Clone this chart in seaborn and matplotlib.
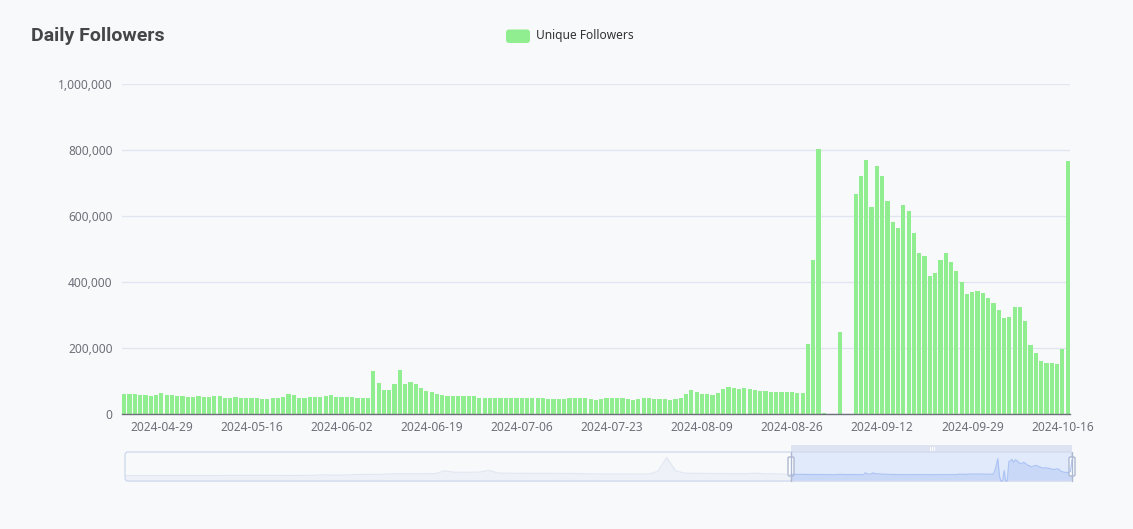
import numpy as np
import pandas as pd
import matplotlib
matplotlib.use("Agg")
import matplotlib.pyplot as plt
from matplotlib.patches import FancyBboxPatch, Rectangle
import seaborn as sns

# ---------------- data ----------------
dates = pd.date_range("2024-04-22", "2024-10-17", freq="D").strftime("%Y-%m-%d").tolist()

followers_k_apr_jun = [60, 61, 60, 58, 59, 56, 57, 64, 58, 58, 55, 54, 52, 52, 55, 52, 52, 54, 54, 49,
                       49, 51, 50, 50, 48, 48, 46, 46, 47, 47, 53, 62, 57, 50, 50, 53, 53, 53, 54, 57,
                       52, 52, 52, 52, 50, 49, 49]
followers_k_jun_jul = [131, 93, 72, 72, 91, 134, 91, 96, 90, 78, 71, 68, 60, 57, 55, 55, 54, 54, 55, 55,
                       50, 49, 50, 50, 50, 49, 47, 47, 49, 49, 50, 50, 50, 46, 46, 45, 46, 48, 48, 48,
                       47, 46, 43, 46, 48, 48, 48, 47, 45, 43]
followers_k_jul_aug = [45, 47, 48, 46, 46, 46, 43, 44, 50, 60, 72, 67, 62, 60, 59, 64, 75, 81, 79, 76,
                       78, 76, 73, 71, 71, 67, 66, 66, 67, 67, 65, 65]
followers_k_aug_oct = [213, 468, 803, 3, np.nan, np.nan, 248, np.nan, np.nan, 668,
                       722, 770, 626, 753, 720, 645, 581, 564, 633, 614,
                       550, 487, 478, 419, 427, 468, 488, 462, 432, 399,
                       364, 370, 374, 366, 352, 337, 315, 291, 294, 324,
                       324, 281, 209, 186, 161, 155, 155, 153, 197, 766]

followers = np.array(followers_k_apr_jun + followers_k_jun_jul + followers_k_jul_aug
                     + followers_k_aug_oct, dtype=float) * 1000

# earlier history, as read from the data-zoom shadow (thousands, coarse samples)
history_k = [3, 3, 3, 3, 3, 3, 3, 4, 4, 4, 4, 4, 5, 5, 5, 5, 6, 6, 6, 8,
             10, 12, 40, 28, 25, 27, 55, 60, 62, 62, 85, 92, 92, 95, 95, 100, 230, 165, 160, 165,
             170, 250, 125, 115, 112, 110, 110, 108, 108, 105, 105, 100, 85, 82, 80, 80, 78, 78, 76, 76,
             200, 866, 230, 125, 110, 105, 100, 100, 98, 98, 95, 120, 90, 85, 70]
history = np.array(history_k, dtype=float) * 1000

tick_labels = ["2024-04-29", "2024-05-16", "2024-06-02", "2024-06-19", "2024-07-06", "2024-07-23",
               "2024-08-09", "2024-08-26", "2024-09-12", "2024-09-29", "2024-10-16"]
y_ticks = [0, 200000, 400000, 600000, 800000, 1000000]

title = "Daily Followers"
series_name = "Unique Followers"

# ---------------- style ----------------
BG = "#f8f9fb"
BAR = "#90ee90"
AXIS = "#6e7079"
GRID = "#e0e6f1"

sns.set_style("white")
plt.rcParams["font.family"] = ["Noto Sans", "DejaVu Sans"]

W, H = 1133, 529
fig = plt.figure(figsize=(W / 100, H / 100), dpi=100, facecolor=BG)

# main plotting area in pixel coords: x 121.6..1070.3, y 84..414
L, R, T, B = 121.6, 1070.3, 84, 414
ax = fig.add_axes([L / W, 1 - B / H, (R - L) / W, (B - T) / H])
ax.set_facecolor(BG)

df = pd.DataFrame({"date": dates, "followers": followers})
sns.barplot(data=df, x="date", y="followers", color=BAR, saturation=1, width=0.8,
            errorbar=None, linewidth=0, edgecolor="none", ax=ax, zorder=3)

n = len(dates)
ax.set_xlim(-0.5, n - 0.5)
ax.set_ylim(0, 1000000)
ax.set_xlabel("")
ax.set_ylabel("")

# y axis
ax.set_yticks(y_ticks)
ax.set_yticklabels([f"{v:,}" for v in y_ticks])
ax.yaxis.grid(True, color=GRID, linewidth=1, zorder=0)
ax.set_axisbelow(True)
ax.tick_params(axis="y", length=0, pad=6.5, labelsize=8.6, labelcolor=AXIS)

# x axis: labels at band centers, tick marks at band boundaries
label_pos = [dates.index(t) for t in tick_labels]
ax.set_xticks(label_pos)
ax.set_xticklabels(tick_labels)
ax.tick_params(axis="x", which="major", length=0, pad=5, labelsize=8.6, labelcolor=AXIS)
ax.set_xticks([p - 0.5 for p in label_pos] + [n - 0.5], minor=True)
ax.tick_params(axis="x", which="minor", length=3.6, width=1, color=AXIS)

for s in ["top", "right", "left"]:
    ax.spines[s].set_visible(False)
ax.spines["bottom"].set_color(AXIS)
ax.spines["bottom"].set_linewidth(1)
ax.spines["bottom"].set_zorder(4)

# ---------------- overlay in pixel coordinates ----------------
ov = fig.add_axes([0, 0, 1, 1], zorder=5)
ov.set_xlim(0, W)
ov.set_ylim(H, 0)
ov.axis("off")
ov.patch.set_visible(False)

ov.text(31, 36, title, fontsize=14, fontweight="bold", color="#464646",
        ha="left", va="center", family=["Roboto", "DejaVu Sans"])

ov.add_patch(FancyBboxPatch((506, 29.5), 24, 13.5, boxstyle="round,pad=0,rounding_size=3",
                            facecolor=BAR, edgecolor="none"))
ov.text(536, 36, series_name, fontsize=8.6, color="#333333", ha="left", va="center")

# ---------------- data-zoom slider ----------------
sx0, sx1, sy0, sy1 = 125, 1072, 452, 481
wx0 = 791  # window start

full = np.concatenate([history, followers])
vmin, vmax = np.nanmin(full), np.nanmax(full)
rng = vmax - vmin
lo, hi = vmin - 0.3 * rng, vmax + 0.3 * rng


def shadow_y(v):
    v = np.where(np.isnan(v), lo, v)
    return sy1 - (v - lo) / (hi - lo) * (sy1 - sy0)


hx = sx0 + np.arange(len(history)) * (wx0 - sx0) / len(history)
vx = wx0 + np.arange(n) * (sx1 - wx0) / (n - 1)
allx = np.concatenate([hx, vx])
ally = shadow_y(full)

ov.fill_between(allx, ally, sy1, color="#d2dbee", alpha=0.25, linewidth=0)
ov.plot(allx, ally, color="#d2dbee", alpha=0.6, linewidth=0.8)

# selected window filler
ov.add_patch(Rectangle((wx0, sy0), sx1 - wx0, sy1 - sy0, facecolor="#87afff", alpha=0.2,
                       edgecolor="none"))
ov.fill_between(vx, shadow_y(followers), sy1, color="#8fb0f7", alpha=0.2, linewidth=0)
ov.plot(vx, shadow_y(followers), color="#8fb0f7", alpha=0.6, linewidth=0.8)

# border
ov.add_patch(FancyBboxPatch((sx0, sy0), sx1 - sx0, sy1 - sy0,
                            boxstyle="round,pad=0,rounding_size=3",
                            facecolor="none", edgecolor="#d2dbee", linewidth=1))
# move handle
ov.add_patch(Rectangle((wx0, 445), sx1 - wx0, 7, facecolor="#d2dbee", alpha=0.7,
                       edgecolor="none"))
cx = (wx0 + sx1) / 2
for dx in (-2, 0, 2):
    ov.plot([cx + dx, cx + dx], [447, 450], color="#ffffff", linewidth=0.8)

# handles
for hxp in (wx0, sx1):
    ov.plot([hxp, hxp], [sy0, sy1], color="#acb8d1", linewidth=1)
    ov.add_patch(FancyBboxPatch((hxp - 3, 457), 6, 19, boxstyle="round,pad=0,rounding_size=1.5",
                                facecolor="#ffffff", edgecolor="#acb8d1", linewidth=1))

fig.savefig("out.png", dpi=100, facecolor=BG)
